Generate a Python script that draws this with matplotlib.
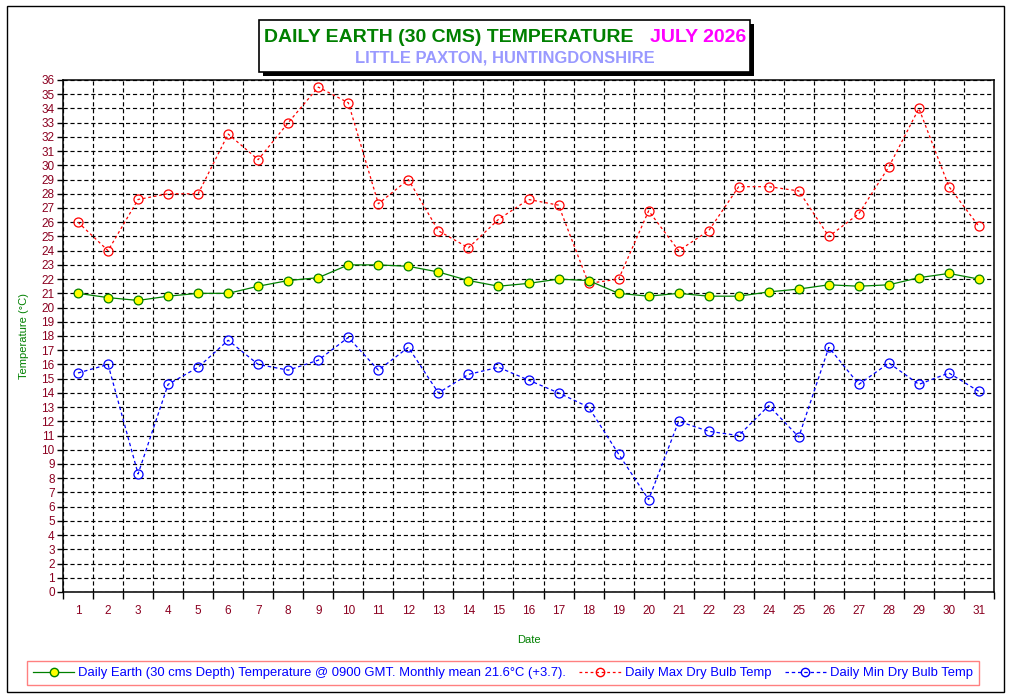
import matplotlib
matplotlib.use("Agg")
import matplotlib.pyplot as plt
from matplotlib.patches import Rectangle
from matplotlib.lines import Line2D
import numpy as np

plt.rcParams['font.family'] = ['Liberation Sans', 'DejaVu Sans']
plt.rcParams['lines.scale_dashes'] = False

days = list(range(1, 32))
earth = [21.0, 20.7, 20.5, 20.8, 21.0, 21.0, 21.5, 21.9, 22.1, 23.0,
         23.0, 22.9, 22.5, 21.9, 21.5, 21.7, 22.0, 21.9, 21.0, 20.8,
         21.0, 20.8, 20.8, 21.1, 21.3, 21.6, 21.5, 21.6, 22.1, 22.4, 22.0]
tmax = [26.0, 24.0, 27.6, 28.0, 28.0, 32.2, 30.4, 33.0, 35.5, 34.4,
        27.3, 29.0, 25.4, 24.2, 26.2, 27.6, 27.2, 21.7, 22.0, 26.8,
        24.0, 25.4, 28.5, 28.5, 28.2, 25.0, 26.6, 29.9, 34.0, 28.5, 25.7]
tmin = [15.4, 16.0, 8.3, 14.6, 15.8, 17.7, 16.0, 15.6, 16.3, 17.9,
        15.6, 17.2, 14.0, 15.3, 15.8, 14.9, 14.0, 13.0, 9.7, 6.5,
        12.0, 11.3, 11.0, 13.1, 10.9, 17.2, 14.6, 16.1, 14.6, 15.4, 14.1]
y_ticks = list(range(0, 37))

title_main = "DAILY EARTH (30 CMS) TEMPERATURE"
title_month = "JULY 2026"
subtitle = "LITTLE PAXTON, HUNTINGDONSHIRE"
lab_earth = "Daily Earth (30 cms Depth) Temperature @ 0900 GMT. Monthly mean 21.6\u00b0C (+3.7)."
lab_max = "Daily Max Dry Bulb Temp"
lab_min = "Daily Min Dry Bulb Temp"

W, H = 1010, 695
fig = plt.figure(figsize=(W / 100, H / 100), dpi=100)
fig.patch.set_facecolor('white')

def fx(px):
    return px / W

def fy(py):
    return 1 - py / H

ax = fig.add_axes([fx(63), fy(592), fx(994) - fx(63), fy(80) - fy(592)])

tick_col = '#8B0020'
green = '#008000'

ax.plot(days, earth, color=green, lw=0.9, marker='o', ms=6.3,
        mfc='#FFFF00', mec=green, mew=0.9, zorder=5)
ax.plot(days, tmax, color='#FF0000', lw=0.9, ls=(0, (2, 2)), marker='o', ms=6.5,
        mfc='none', mec='#FF0000', mew=0.9, zorder=4)
ax.plot(days, tmin, color='#0000FF', lw=0.9, ls=(0, (2.5, 2)), marker='o', ms=6.5,
        mfc='none', mec='#0000FF', mew=0.9, zorder=4)

ax.set_xlim(0.5, 31.5)
ax.set_ylim(0, 36)
ax.set_yticks(y_ticks)
ax.set_yticklabels([str(v) for v in y_ticks])
ax.set_xticks(days)
ax.set_xticklabels([str(d) for d in days])
ax.set_xticks(np.arange(0.5, 32, 1.0), minor=True)

ax.tick_params(axis='x', which='major', length=0, pad=9, labelsize=8.5, labelcolor=tick_col)
ax.tick_params(axis='x', which='minor', length=5, width=1, direction='out', color='black')
ax.tick_params(axis='y', which='major', length=4, width=1, direction='out', pad=2,
               labelsize=8.5, labelcolor=tick_col)

ax.grid(True, axis='y', which='major', color='black', lw=0.85, ls=(0, (3, 2)))
ax.grid(True, axis='x', which='minor', color='black', lw=0.85, ls=(0, (3, 2)))
ax.grid(False, axis='x', which='major')
ax.set_axisbelow(True)
for s in ax.spines.values():
    s.set_color('black')
    s.set_linewidth(1.1)

ax.set_xlabel('Date', color=green, fontsize=8, labelpad=13)
fig.text(fx(24), fy(336), 'Temperature (\u00b0C)', color=green, fontsize=8,
         rotation=90, ha='center', va='center')

# Title box with shadow
bx0, by0, bx1, by1 = 259, 20, 750, 72
fig.patches.append(Rectangle((fx(bx0 + 4), fy(by1 + 4)), fx(bx1 - bx0), fy(by0) - fy(by1),
                             transform=fig.transFigure, facecolor='black', edgecolor='black',
                             lw=0, zorder=1))
fig.patches.append(Rectangle((fx(bx0), fy(by1)), fx(bx1 - bx0), fy(by0) - fy(by1),
                             transform=fig.transFigure, facecolor='white', edgecolor='black',
                             lw=1.2, zorder=2))
fig.text(fx(264), fy(37), title_main, color=green, fontsize=14, fontweight='bold',
         ha='left', va='center', zorder=3)
fig.text(fx(746), fy(37), title_month, color='#FF00FF', fontsize=14, fontweight='bold',
         ha='right', va='center', zorder=3)
fig.text(fx(505), fy(58), subtitle, color='#9999FF', fontsize=11.9, fontweight='bold',
         ha='center', va='center', zorder=3)

# Outer border
fig.patches.append(Rectangle((fx(7), fy(692)), fx(1004 - 7), fy(6) - fy(692),
                             transform=fig.transFigure, facecolor='none', edgecolor='black',
                             lw=1.0, zorder=0))

handles = [
    Line2D([], [], color=green, lw=0.9, marker='o', ms=6, mfc='#FFFF00', mec=green),
    Line2D([], [], color='#FF0000', lw=0.9, ls=(0, (2, 2)), marker='o', ms=6, mfc='none', mec='#FF0000'),
    Line2D([], [], color='#0000FF', lw=0.9, ls=(0, (2.5, 2)), marker='o', ms=6, mfc='none', mec='#0000FF'),
]
leg = fig.legend(handles, [lab_earth, lab_max, lab_min], loc='center',
                 bbox_to_anchor=(fx(503), fy(673)), ncol=3, fontsize=9.4,
                 frameon=True, fancybox=False, edgecolor='#FF8080', framealpha=1,
                 handlelength=3.2, handletextpad=0.3, columnspacing=1.0,
                 borderpad=0.45, borderaxespad=0, numpoints=1)
leg.get_frame().set_linewidth(1.0)
for t in leg.get_texts():
    t.set_color('#0000FF')

fig.savefig('out.png', dpi=100, facecolor='white')
